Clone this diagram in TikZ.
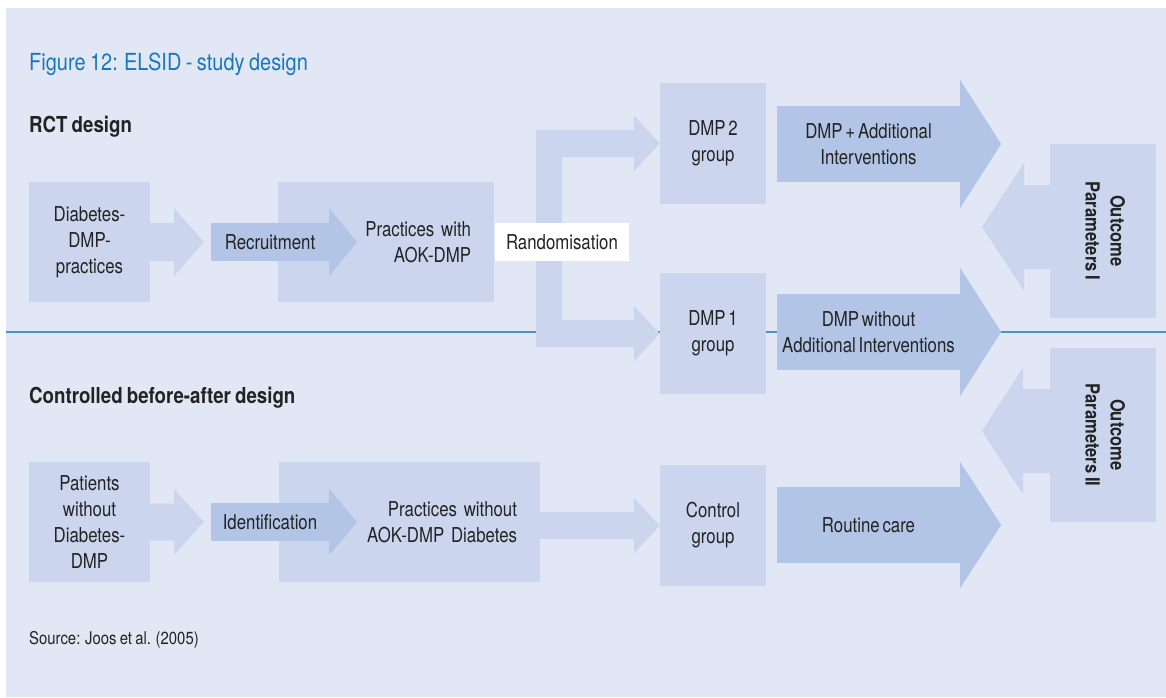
\documentclass[tikz,border=0pt]{standalone}
\usepackage{fontspec}
\usepackage{graphicx}
\setmainfont{TeX Gyre Heros}[FakeStretch=0.85, WordSpace=0.8]
\newfontfamily\condfont{TeX Gyre Heros}[FakeStretch=0.82, WordSpace=0.6]
\usetikzlibrary{calc}

\definecolor{bgblue}{RGB}{225,231,244}
\definecolor{boxlight}{RGB}{203,214,238}
\definecolor{boxdark}{RGB}{179,197,230}
\definecolor{titleblue}{RGB}{24,120,190}
\definecolor{ruleblue}{RGB}{74,144,201}
\definecolor{txt}{RGB}{35,35,35}

% horizontal block arrow: style, start, tip, shaft half height, head half height, head length
\newcommand{\blockarrow}[6]{%
  \fill[#1] ($(#2)+(0,{-(#4)})$) -- ($(#3)+({-(#6)},{-(#4)})$) -- ($(#3)+({-(#6)},{-(#5)})$) -- (#3)
    -- ($(#3)+({-(#6)},{#5})$) -- ($(#3)+({-(#6)},{#4})$) -- ($(#2)+(0,{#4})$) -- cycle;}

\tikzset{
  body/.style={font=\condfont\fontsize{20.5}{26}\selectfont, text=txt},
  lbox/.style={body, fill=boxlight, inner sep=0pt, align=center},
  dbox/.style={body, fill=boxdark, inner sep=0pt, align=center},
  heading/.style={font=\fontsize{22}{26}\selectfont\bfseries, text=txt, anchor=base west, inner sep=0pt},
  larrow/.style={fill=boxlight},
  darrow/.style={fill=boxdark},
}

\begin{document}
\begin{tikzpicture}[x=1pt,y=-1pt]
  \useasboundingbox (0,0) rectangle (1166,697);
  \fill[bgblue] (6,8) rectangle (1166,697);

  % separating rule between the two designs
  \draw[ruleblue, line width=2pt] (6,332) coordinate (ruleL) -- (1166,332) coordinate (ruleR);

  % titles
  \node[anchor=base west, inner sep=0pt, text=titleblue, font=\fontsize{23.5}{28}\selectfont] (title) at (29,70) {Figure 12: ELSID - study design};
  \node[heading] (rct) at (29,132) {RCT design};
  \node[heading] (cba) at (29,403) {Controlled before-after design};
  \node[anchor=base west, inner sep=0pt, text=txt, font=\fontsize{17.5}{20}\selectfont] (src) at (29,644) {Source: Joos et al. (2005)};

  % light boxes
  \node[lbox, minimum width=121, minimum height=120] (dia) at (89.5,242) {Diabetes-\\DMP-\\practices};
  \node[lbox, minimum height=120, text width=170, inner xsep=23, align=right] (prw) at (386,242) {Practices with\\AOK-DMP};
  \node[lbox, minimum width=106, minimum height=121] (dmp2) at (713,143.5) {DMP 2\\group};
  \node[lbox, minimum width=106, minimum height=121] (dmp1) at (713,333.5) {DMP 1\\group};
  \node[lbox, minimum width=121, minimum height=120] (pat) at (89.5,522) {Patients\\without\\Diabetes-\\DMP};
  \node[lbox, minimum height=120, text width=215, inner xsep=23, align=right] (pwo) at (409.5,522) {Practices without\\AOK-DMP Diabetes};
  \node[lbox, minimum width=106, minimum height=121] (ctl) at (713,525.5) {Control\\group};
  \node[lbox, minimum width=106, minimum height=174, font=\fontsize{19.5}{25}\selectfont\bfseries] (out1) at (1103,231)
    {\rotatebox{-90}{\begin{tabular}{@{}c@{}}Outcome\\Parameters I\end{tabular}}};
  \node[lbox, minimum width=106, minimum height=174, font=\fontsize{19.5}{25}\selectfont\bfseries] (out2) at (1103,435)
    {\rotatebox{-90}{\begin{tabular}{@{}c@{}}Outcome\\Parameters II\end{tabular}}};

  % light connectors
  \coordinate (t1) at (204,242);
  \blockarrow{larrow}{dia.east}{t1}{19}{34}{30}
  \coordinate (t5) at (204,522);
  \blockarrow{larrow}{pat.east}{t5}{18.5}{33}{30}
  \coordinate (pwoS) at (pwo.east |- ctl.west);
  \blockarrow{larrow}{pwoS}{ctl.west}{13.5}{28}{26}

  % randomisation branches to both DMP groups
  \coordinate (split) at (549,242);
  \coordinate (bt) at (split |- dmp2.west);
  \coordinate (bb) at (split |- dmp1.west);
  \fill[larrow] ($(bt)+(-13,-13.5)$) -- ($(dmp2.west)+(-26,-13.5)$) -- ($(dmp2.west)+(-26,-28)$) -- (dmp2.west)
    -- ($(dmp2.west)+(-26,28)$) -- ($(dmp2.west)+(-26,13.5)$) -- ($(bt)+(13,13.5)$)
    -- ($(bb)+(13,-13.5)$) -- ($(dmp1.west)+(-26,-13.5)$) -- ($(dmp1.west)+(-26,-28)$) -- (dmp1.west)
    -- ($(dmp1.west)+(-26,28)$) -- ($(dmp1.west)+(-26,13.5)$) -- ($(bb)+(-13,13.5)$) -- cycle;

  % outcome arrows pointing back to the groups
  \coordinate (o1tip) at (982,227);
  \coordinate (o1s) at (out1.west |- o1tip);
  \blockarrow{larrow}{o1s}{o1tip}{42}{64}{-42}
  \coordinate (o2tip) at (982,431);
  \coordinate (o2s) at (out2.west |- o2tip);
  \blockarrow{larrow}{o2s}{o2tip}{42}{63.5}{-41}

  % dark labelled arrows
  \node[dbox, minimum width=118, minimum height=38] (rec) at (270,242) {Recruitment};
  \coordinate (t2) at ($(rec.east)+(28,0)$);
  \blockarrow{darrow}{rec.east}{t2}{19}{34}{28}
  \node[dbox, minimum width=118, minimum height=38] (ide) at (270,522) {Identification};
  \coordinate (t6) at ($(ide.east)+(28,0)$);
  \blockarrow{darrow}{ide.east}{t6}{19}{33}{28}

  \node[dbox, minimum width=183, minimum height=76] (add) at (868.5,144) {DMP + Additional\\Interventions};
  \coordinate (t3) at ($(add.east)+(41,0)$);
  \blockarrow{darrow}{add.east}{t3}{38}{64}{41}
  \node[dbox, minimum width=183, minimum height=76] (noadd) at (868.5,332) {DMP without\\Additional Interventions};
  \coordinate (t4) at ($(noadd.east)+(41,0)$);
  \blockarrow{darrow}{noadd.east}{t4}{38}{64}{41}
  \node[dbox, minimum width=183, minimum height=76] (rout) at (868.5,525) {Routine care};
  \coordinate (t7) at ($(rout.east)+(41,0)$);
  \blockarrow{darrow}{rout.east}{t7}{38}{63}{41}

  % randomisation label over the branch
  \node[body, fill=white, inner sep=0pt, minimum width=134, minimum height=38] (rand) at (562,242) {Randomisation};
\end{tikzpicture}
\end{document}
